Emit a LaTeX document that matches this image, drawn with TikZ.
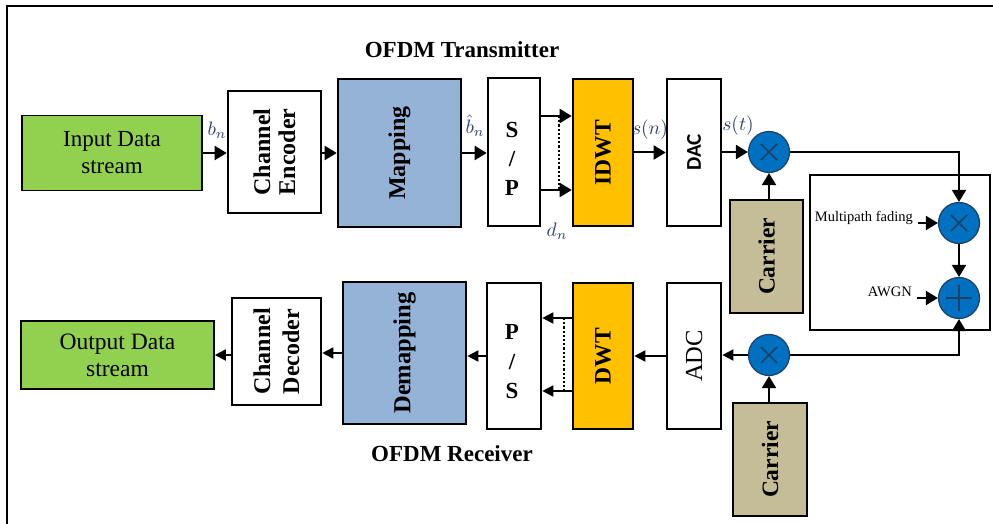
\documentclass[tikz,border=0pt]{standalone}
\usepackage{fontspec}
\setmainfont{Liberation Serif}
\newfontfamily\calib{Carlito}
\usetikzlibrary{arrows.meta,calc}
\definecolor{grn}{HTML}{92D050}
\definecolor{bluegray}{HTML}{95B3D7}
\definecolor{orng}{HTML}{FFC000}
\definecolor{tan}{HTML}{C4BD97}
\definecolor{cblue}{HTML}{0070C0}
\definecolor{cedge}{HTML}{1F3F66}
\definecolor{mathc}{RGB}{45,62,105}
\tikzset{
  box/.style={draw=black, line width=2.6pt, inner sep=0pt},
  thinbox/.style={draw=black, line width=1.6pt, inner sep=0pt},
  lbl/.style={font=\bfseries\fontsize{24}{25}\selectfont, align=center, inner sep=0pt},
  arr/.style={-{Triangle[length=12pt,width=14pt]}, line width=2pt},
  arrs/.style={-{Triangle[length=11pt,width=11pt]}, line width=1.8pt},
  mlbl/.style={text=mathc, inner sep=0pt},
  opc/.style={circle, fill=cblue, draw=cedge, line width=1.2pt, minimum size=41pt, inner sep=0pt},
  mulc/.style={opc, path picture={
     \draw[line width=1.5pt] ([shift={(-8pt,-8pt)}]path picture bounding box.center) -- ([shift={(8pt,8pt)}]path picture bounding box.center);
     \draw[line width=1.5pt] ([shift={(-8pt,8pt)}]path picture bounding box.center) -- ([shift={(8pt,-8pt)}]path picture bounding box.center);}},
  addc/.style={opc, path picture={
     \draw[line width=1.5pt] ([shift={(-13pt,0pt)}]path picture bounding box.center) -- ([shift={(13pt,0pt)}]path picture bounding box.center);
     \draw[line width=1.5pt] ([shift={(0pt,-13pt)}]path picture bounding box.center) -- ([shift={(0pt,13pt)}]path picture bounding box.center);}},
}
\newcommand{\mlab}[1]{\scalebox{1.95}{$#1$}}
\begin{document}
\begin{tikzpicture}[x=1pt,y=-1pt]
\useasboundingbox (0,0) rectangle (993,524);
% outer frame (top and left edges visible)
\draw[line width=2.2pt] (7,524) -- (7,6) -- (993,6);

% titles
\node[font=\bfseries\fontsize{23}{23}\selectfont, inner sep=0pt] (ttx) at (462,50) {OFDM Transmitter};
\node[font=\bfseries\fontsize{23}{23}\selectfont, inner sep=0pt] (trx) at (452,454) {OFDM Receiver};

% ---- transmitter row ----
\node[thinbox, fill=grn, minimum width=180pt, minimum height=75pt, font=\fontsize{23}{27}\selectfont, align=center] (inp) at (112,153) {Input Data\\stream};
\node[box, minimum width=93pt, minimum height=122pt] (enc) at (274.5,152) {};
\node[lbl, rotate=90] (encT) at (enc) {Channel\\Encoder};
\node[box, fill=bluegray, minimum width=123pt, minimum height=148pt] (map) at (399.5,153) {};
\node[lbl, rotate=90] (mapT) at (map) {Mapping};
\node[box, minimum width=52pt, minimum height=148pt] (sp) at (514,152) {};
\node[lbl, font=\bfseries\fontsize{23}{29}\selectfont] (spT) at (512,159) {S\\/\\P};
\node[box, fill=orng, minimum width=60pt, minimum height=147pt] (idwt) at (603,152.5) {};
\node[lbl, rotate=90, font=\bfseries\fontsize{23.5}{25}\selectfont] (idwtT) at (idwt) {IDWT};
\node[box, minimum width=54pt, minimum height=147pt] (dac) at (694,152.5) {};
\node[lbl, rotate=90, font=\calib\bfseries\fontsize{21}{22}\selectfont] (dacT) at (dac) {DAC};
\node[mulc] (m1) at (769,152) {};
\node[box, fill=tan, minimum width=73pt, minimum height=113pt] (car1) at (766.5,256.5) {};
\node[lbl, rotate=90, font=\bfseries\fontsize{23.5}{25}\selectfont] (car1T) at (car1) {Carrier};

% channel
\node[thinbox, line width=1.8pt, minimum width=180pt, minimum height=155pt] (chb) at (900,252.5) {};
\node[mulc] (chm) at (959,223) {};
\node[addc] (add) at (959,298) {};
\node[anchor=east, inner sep=0pt, font=\fontsize{14.5}{15}\selectfont] (mpf) at (913,218) {Multipath fading};
\node[anchor=east, inner sep=0pt, font=\fontsize{14.5}{15}\selectfont] (awgn) at (912,292) {AWGN};

% ---- receiver row ----
\node[thinbox, fill=grn, minimum width=193pt, minimum height=68pt, font=\fontsize{23.5}{27}\selectfont, align=center] (out) at (117.5,355) {Output Data\\stream};
\node[box, minimum width=89pt, minimum height=107pt] (dec) at (276.5,351.5) {};
\node[lbl, rotate=90, font=\bfseries\fontsize{24}{29}\selectfont] (decT) at (dec) {Channel\\Decoder};
\node[box, fill=bluegray, minimum width=123pt, minimum height=142pt] (demap) at (404.5,353) {};
\node[lbl, rotate=90, font=\bfseries\fontsize{24.5}{25}\selectfont] (demapT) at (demap) {Demapping};
\node[box, minimum width=54pt, minimum height=146pt] (ps) at (514,356) {};
\node[lbl, font=\bfseries\fontsize{23}{29.5}\selectfont] (psT) at (512,362) {P\\/\\S};
\node[box, fill=orng, minimum width=60pt, minimum height=146pt] (dwt) at (603,356) {};
\node[lbl, rotate=90, font=\bfseries\fontsize{23.5}{25}\selectfont] (dwtT) at (dwt) {DWT};
\node[box, minimum width=54pt, minimum height=146pt] (adc) at (694,356) {};
\node[lbl, rotate=90, font=\fontsize{24.5}{25}\selectfont] (adcT) at (adc) {ADC};
\node[mulc] (m2) at (769,355) {};
\node[box, fill=tan, minimum width=74pt, minimum height=113pt] (car2) at (770,459.5) {};
\node[lbl, rotate=90, font=\bfseries\fontsize{23.5}{25}\selectfont] (car2T) at (car2) {Carrier};

% ---- math labels ----
\node[mlbl] (lbn) at (217,130) {\mlab{b_n}};
\node[mlbl] (lbh) at (475,126) {\mlab{\hat{b}_n}};
\node[mlbl] (lsn) at (650,130) {\mlab{s(n)}};
\node[mlbl] (lst) at (738,126) {\mlab{s(t)}};
\node[mlbl] (ldn) at (557,231) {\mlab{d_n}};

% ---- transmitter connectors ----
\draw[arr] (inp.east) -- (enc.west |- inp.east);
\draw[arr] (enc.east |- map.west) -- (map.west);
\draw[arr] (map.east) -- (sp.west |- map.east);
\draw[arr] ([yshift=36pt]sp.east) -- ([yshift=36pt]sp.east -| idwt.west);
\draw[arr] ([yshift=-38pt]sp.east) -- ([yshift=-38pt]sp.east -| idwt.west);
\draw[line width=2.2pt, dotted] ([xshift=18pt,yshift=36pt]sp.east) -- ([xshift=18pt,yshift=-38pt]sp.east);
\draw[arr] (idwt.east) -- (dac.west |- idwt.east);
\draw[arr] (dac.east |- m1.west) -- (m1.west);
\draw[arr] (car1.north -| m1.south) -- (m1.south);
\draw[arr] (m1.east) -| (chm.north);
\draw[arr] (chm.south) -- (add.north);
\draw[arr] ([xshift=5pt]mpf.east |- chm.west) -- (chm.west);
\draw[arr] ([xshift=5pt]awgn.east |- add.west) -- (add.west);

% ---- receiver connectors ----
\draw[arr] (m2.east) -| (add.south);
\draw[arrs] (m2.west) -- (adc.east |- m2.west);
\draw[arrs] (adc.west) -- (dwt.east |- adc.west);
\draw[arrs] ([yshift=38pt]dwt.west) -- ([yshift=38pt]dwt.west -| ps.east);
\draw[arrs] ([yshift=-35pt]dwt.west) -- ([yshift=-35pt]dwt.west -| ps.east);
\draw[line width=2.2pt, dotted] ([xshift=-8pt,yshift=38pt]dwt.west) -- ([xshift=-8pt,yshift=-35pt]dwt.west);
\draw[arrs] (ps.west) -- (demap.east |- ps.west);
\draw[arrs] (demap.west) -- (dec.east |- demap.west);
\draw[arrs] (dec.west |- out.east) -- (out.east);
\draw[arr] (car2.north -| m2.south) -- (m2.south);
\end{tikzpicture}
\end{document}
